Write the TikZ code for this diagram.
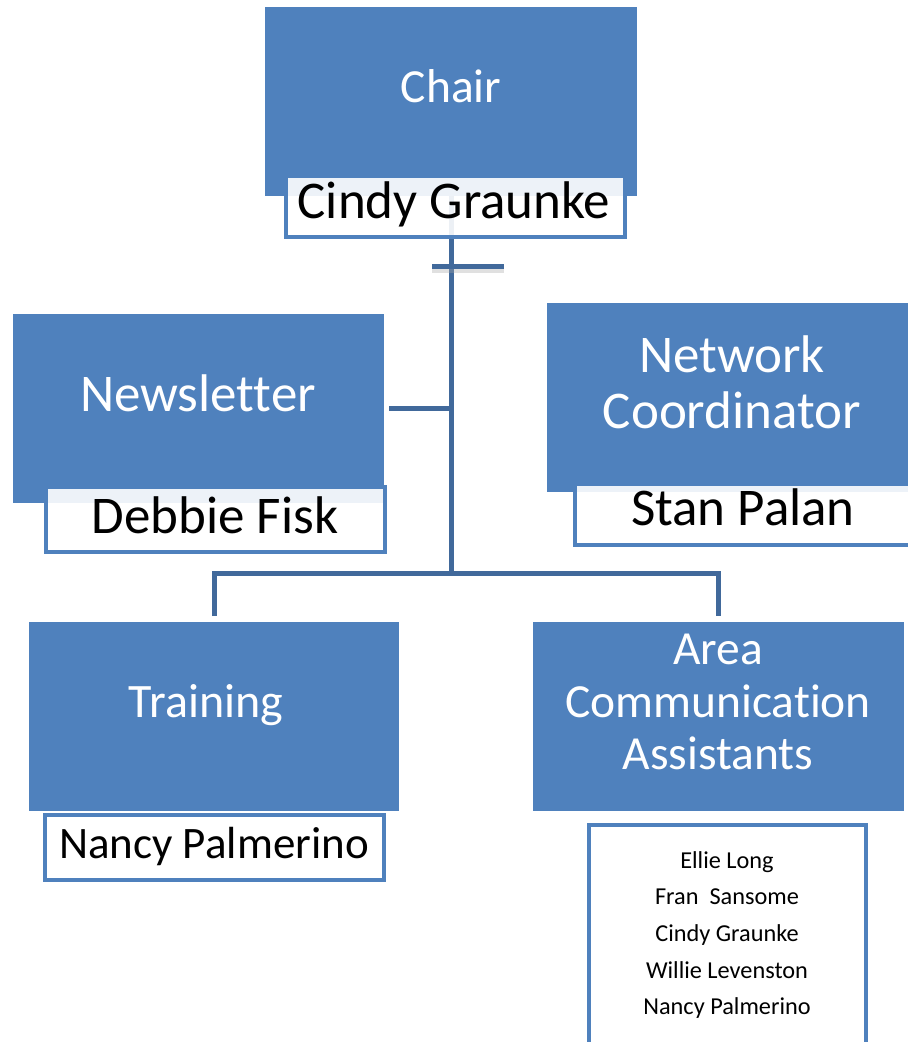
\documentclass[tikz,border=0pt]{standalone}
\usepackage{fontspec}
\setmainfont[Ligatures={NoCommon}]{Carlito}
\definecolor{boxblue}{HTML}{4F81BD}
\definecolor{linkblue}{HTML}{41699B}
\newcommand\setfs[1]{\fontsize{#1}{#1}\selectfont}
\tikzset{
 rolebox/.style={fill=boxblue, draw=none, inner sep=0, outer sep=0, anchor=north west},
 namebox/.style={fill=white, fill opacity=0.9, draw=boxblue, line width=3.5pt, inner sep=0, outer sep=0, anchor=north west},
 link/.style={draw=linkblue, line width=5pt, line join=miter},
 roletext/.style={text=white, anchor=base, inner sep=0},
 nametext/.style={text=black, anchor=base, inner sep=0},
}
\begin{document}
\begin{tikzpicture}[x=1pt,y=-1pt]
\useasboundingbox (0,0) rectangle (908,1042);
\clip (0,0) rectangle (908,1042);
% role boxes
\node[rolebox, minimum width=372pt, minimum height=189pt] (chair) at (265,7) {};
\node[rolebox, minimum width=371pt, minimum height=189pt] (news) at (13,314) {};
\node[rolebox, minimum width=380pt, minimum height=189pt] (net) at (547,303) {};
\node[rolebox, minimum width=370pt, minimum height=189pt] (train) at (29,622) {};
\node[rolebox, minimum width=371pt, minimum height=189pt] (area) at (533,622) {};
% connectors
\coordinate (bus) at (451,573);
\coordinate (tickL) at (432,266);
\coordinate (tickR) at (504,266);
\draw[link] (chair.south) -- (bus);
\draw[link] ([xshift=5pt]news.east) -- (news.east -| bus);
\draw[link] ([yshift=6pt]train.north) |- (bus) -| ([yshift=6pt]area.north);
\draw[draw=black!35, opacity=0.35, line width=5pt] ([yshift=-4pt]tickL) -- ([yshift=-4pt]tickR);
\draw[link] (tickL) -- (tickR);
% name boxes
\node[namebox, minimum width=339pt, minimum height=61pt] (cindyN) at (286,176) {};
\node[namebox, minimum width=339pt, minimum height=65pt] (debbieN) at (46,487) {};
\node[namebox, minimum width=360pt, minimum height=61pt] (stanN) at (575,484) {};
\node[namebox, minimum width=339pt, minimum height=65pt] (nancyN) at (45,815) {};
\node[namebox, minimum width=277pt, minimum height=240pt] (listN) at (589,825) {};
% role texts
\node[roletext, font=\setfs{47.5}] (chairT) at (451,102) {Chair};
\node[roletext, font=\setfs{53}] (newsT) at (198,411) {Newsletter};
\node[roletext, font=\setfs{53}] (netT1) at (732,372) {Network};
\node[roletext, font=\setfs{53}] (netT2) at (732,428) {Coordinator};
\node[roletext, font=\setfs{48}] (trainT) at (206,717) {Training};
\node[roletext, font=\setfs{47.5}] (areaT1) at (718,664) {Area};
\node[roletext, font=\setfs{47.5}] (areaT2) at (718,717) {Communication};
\node[roletext, font=\setfs{47.5}] (areaT3) at (718,769) {Assistants};
% name texts
\node[nametext, font=\setfs{53}] (cindyT) at (454,218) {Cindy Graunke};
\node[nametext, font=\setfs{53}] (debbieT) at (215,533) {Debbie Fisk};
\node[nametext, font=\setfs{53}] (stanT) at (743,525) {Stan Palan};
\node[nametext, font=\setfs{45}] (nancyT) at (214,858) {Nancy Palmerino};
\node[nametext, font=\setfs{24.3}] (l1) at (727,868) {Ellie Long};
\node[nametext, font=\setfs{24.3}] (l2) at (727,904) {Fran\ \ Sansome};
\node[nametext, font=\setfs{24.3}] (l3) at (727,941) {Cindy Graunke};
\node[nametext, font=\setfs{24.3}] (l4) at (727,978) {Willie Levenston};
\node[nametext, font=\setfs{24.3}] (l5) at (727,1014) {Nancy Palmerino};
\end{tikzpicture}
\end{document}
